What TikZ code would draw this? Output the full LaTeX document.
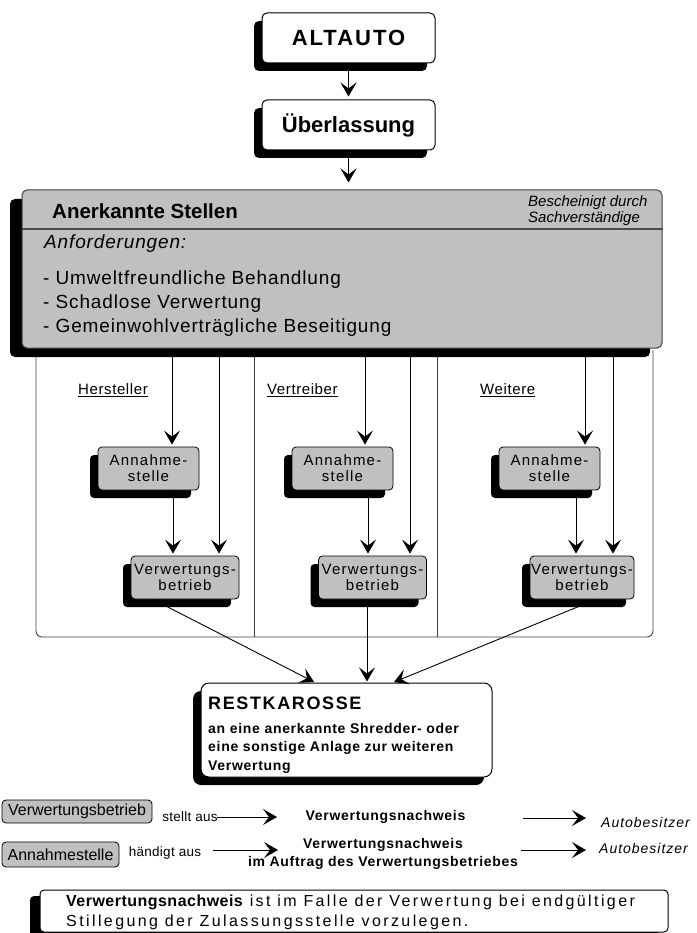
\documentclass[tikz,border=0pt]{standalone}
\usepackage{fontspec}
\setmainfont{Liberation Sans}
\usetikzlibrary{arrows.meta,shadows}
\definecolor{boxgray}{HTML}{C0C0C0}
\newcommand\fAlt{\fontsize{22}{26}\selectfont\bfseries\addfontfeature{LetterSpace=9}}
\newcommand\fUeb{\fontsize{22}{26}\selectfont\bfseries}
\newcommand\fHead{\fontsize{20.5}{24}\selectfont\bfseries}
\newcommand\fCert{\fontsize{15}{16}\selectfont\itshape}
\newcommand\fReqI{\fontsize{19}{22}\selectfont\itshape\addfontfeature{LetterSpace=4.5}}
\newcommand\fReq{\fontsize{19}{22}\selectfont\addfontfeature{LetterSpace=4.5}}
\newcommand\fCol{\fontsize{15}{16}\selectfont\addfontfeature{LetterSpace=4}}
\newcommand\fSmall{\fontsize{15}{16}\selectfont\addfontfeature{LetterSpace=8}}
\newcommand\fRestT{\fontsize{18}{20}\selectfont\bfseries\addfontfeature{LetterSpace=9}}
\newcommand\fRest{\fontsize{14}{16}\selectfont\bfseries\addfontfeature{LetterSpace=5}}
\newcommand\fLeg{\fontsize{16}{18}\selectfont}
\newcommand\fVerb{\fontsize{13.5}{14}\selectfont\addfontfeature{LetterSpace=2}}
\newcommand\fNw{\fontsize{14}{18}\selectfont\bfseries\addfontfeature{LetterSpace=5}}
\newcommand\fAuto{\fontsize{14}{16}\selectfont\itshape\addfontfeature{LetterSpace=7}}
\newcommand\fNote{\fontsize{16}{20}\selectfont\addfontfeature{LetterSpace=15}}
\tikzset{
  arr/.style={-{Stealth[length=14pt,width=16pt,inset=6pt]}, line width=0.9pt},
  shad/.style={drop shadow={shadow xshift=-8pt,shadow yshift=-8pt,opacity=1,fill=black}},
  wbox/.style={draw, line width=1pt, fill=white, rounded corners=5pt, inner sep=0pt, shad},
  gbox/.style={draw, line width=0.8pt, fill=boxgray, rounded corners=4pt, inner sep=0pt,
               align=center, shad, font=\fSmall},
  lbox/.style={draw, line width=0.8pt, fill=boxgray, rounded corners=4pt, inner sep=0pt, font=\fLeg},
  cline/.style={line width=0.9pt, draw=black!75},
  txt/.style={inner sep=0pt},
}
\begin{document}
\begin{tikzpicture}[x=1pt,y=-1pt]
\useasboundingbox (0,0) rectangle (696,933);

% container of the three columns
\draw[cline, rounded corners=6pt] (36,350) -- (36,637) -- (653,637) -- (653,350);
\draw[cline] (254,352) -- (254,637);
\draw[cline] (437,352) -- (437,637);

% top boxes
\node[wbox, minimum width=173pt, minimum height=50pt, font=\fAlt] (alt) at (348.5,38) {ALTAUTO};
\node[wbox, minimum width=173pt, minimum height=50pt, font=\fUeb] (ueb) at (348.5,125) {Überlassung};
\draw[arr, shorten >=3pt] (alt) -- (ueb);

% big box
\node[draw, line width=1pt, draw=black!75, fill=boxgray, rounded corners=5pt, inner sep=0pt,
      minimum width=640pt, minimum height=158pt,
      drop shadow={shadow xshift=-12pt,shadow yshift=-9pt,opacity=1,fill=black}] (big) at (342,269) {};
\draw[arr, shorten >=7pt] (ueb) -- (ueb |- big.north);
\coordinate (dv) at (0,229);
\draw[line width=1pt, draw=black!70] (big.west |- dv) -- (big.east |- dv);
\node[txt, anchor=west, font=\fHead] (hd) at (52,211) {Anerkannte Stellen};
\node[txt, anchor=west, font=\fCert, align=left] (cert) at (528,211) {Bescheinigt durch\\Sachverständige};
\node[txt, anchor=west, font=\fReqI] (req) at (44,244) {Anforderungen:};
\node[txt, anchor=west, font=\fReq] (rq1) at (43,280) {- Umweltfreundliche Behandlung};
\node[txt, anchor=west, font=\fReq] (rq2) at (43,304) {- Schadlose Verwertung};
\node[txt, anchor=west, font=\fReq] (rq3) at (43,328) {- Gemeinwohlverträgliche Beseitigung};

% column labels
\node[txt, anchor=west, font=\fCol] (hst) at (78,390) {\underline{Hersteller}};
\node[txt, anchor=west, font=\fCol] (vtr) at (267,390) {\underline{Vertreiber}};
\node[txt, anchor=west, font=\fCol] (wei) at (480,390) {\underline{Weitere}};

% column boxes
\node[gbox, minimum width=101pt, minimum height=43pt] (ann1) at (148.5,468.5) {Annahme-\\stelle};
\node[gbox, minimum width=101pt, minimum height=43pt] (ann2) at (342.5,468.5) {Annahme-\\stelle};
\node[gbox, minimum width=101pt, minimum height=43pt] (ann3) at (549.5,468.5) {Annahme-\\stelle};
\node[gbox, minimum width=108pt, minimum height=43pt] (ver1) at (185,577.5) {Verwertungs-\\betrieb};
\node[gbox, minimum width=108pt, minimum height=43pt] (ver2) at (372.5,577.5) {Verwertungs-\\betrieb};
\node[gbox, minimum width=104pt, minimum height=43pt] (ver3) at (582,577.5) {Verwertungs-\\betrieb};

% column arrows
\coordinate (xa1) at (172,0);  \coordinate (xb1) at (173,0);  \coordinate (xc1) at (219,0);
\coordinate (xa2) at (365,0);  \coordinate (xb2) at (368,0);  \coordinate (xc2) at (410,0);
\coordinate (xa3) at (585,0);  \coordinate (xb3) at (576,0);  \coordinate (xc3) at (613,0);
\foreach \i in {1,2,3}{
  \draw[arr, shorten >=2pt] (big.south -| xa\i) -- (ann\i.north -| xa\i);
  \draw[arr, shorten >=2pt] (ann\i.south -| xb\i) -- (ver\i.north -| xb\i);
  \draw[arr, shorten >=2pt] (big.south -| xc\i) -- (ver\i.north -| xc\i);
}

% Restkarosse
\node[wbox, rounded corners=8pt, minimum width=291pt, minimum height=94pt] (rest) at (346.5,730) {};
\node[txt, anchor=west, font=\fRestT] (rt) at (208,703) {RESTKAROSSE};
\node[txt, anchor=west, font=\fRest] (rl1) at (208,728) {an eine anerkannte Shredder- oder};
\node[txt, anchor=west, font=\fRest] (rl2) at (208,748) {eine sonstige Anlage zur weiteren};
\node[txt, anchor=west, font=\fRest] (rl3) at (208,767) {Verwertung};
\draw[arr, shorten >=1pt] ([xshift=-32pt]ver1.south) -- ([xshift=-31.5pt]rest.north);
\draw[arr, shorten >=1pt] ([xshift=-5.5pt]ver2.south) -- ([xshift=20.5pt]rest.north);
\draw[arr, shorten >=1pt] ([xshift=14pt]ver3.south) -- ([xshift=46.5pt]rest.north);

% legend row 1
\node[lbox, minimum width=150pt, minimum height=23pt] (lv) at (77,811.5) {Verwertungsbetrieb};
\node[txt, font=\fVerb] (sa) at (190,817) {stellt aus};
\node[txt, font=\fNw] (nw1) at (385.5,817) {Verwertungsnachweis};
\node[txt, anchor=west, font=\fAuto] (ab1) at (601,822) {Autobesitzer};
\coordinate (p1a) at (217,817); \coordinate (p1b) at (277,817);
\coordinate (p2a) at (523,818); \coordinate (p2b) at (586,818);
\draw[arr] (p1a) -- (p1b);
\draw[arr] (p2a) -- (p2b);

% legend row 2
\node[lbox, minimum width=117pt, minimum height=25pt] (la) at (60.5,854.5) {Annahmestelle};
\node[txt, font=\fVerb] (ha) at (165,853) {händigt aus};
\node[txt, font=\fNw, align=center] (nw2) at (383,854) {Verwertungsnachweis\\im Auftrag des Verwertungsbetriebes};
\node[txt, anchor=west, font=\fAuto] (ab2) at (599,848) {Autobesitzer};
\coordinate (q1a) at (213,850); \coordinate (q1b) at (278,850);
\coordinate (q2a) at (521,850); \coordinate (q2b) at (586,850);
\draw[arr] (q1a) -- (q1b);
\draw[arr] (q2a) -- (q2b);

% note
\node[draw, line width=1pt, fill=white, rounded corners=4pt, inner sep=0pt,
      minimum width=628pt, minimum height=42pt,
      drop shadow={shadow xshift=-10pt,shadow yshift=-6pt,opacity=1,fill=black}] (note) at (354,911) {};
\node[txt, anchor=west, font=\fNote] (n1) at (66,902) {{\bfseries\addfontfeature{LetterSpace=3}Verwertungsnachweis} ist im Falle der Verwertung bei endgültiger};
\node[txt, anchor=west, font=\fNote] (n2) at (66,922) {Stillegung der Zulassungsstelle vorzulegen.};
\end{tikzpicture}
\end{document}
